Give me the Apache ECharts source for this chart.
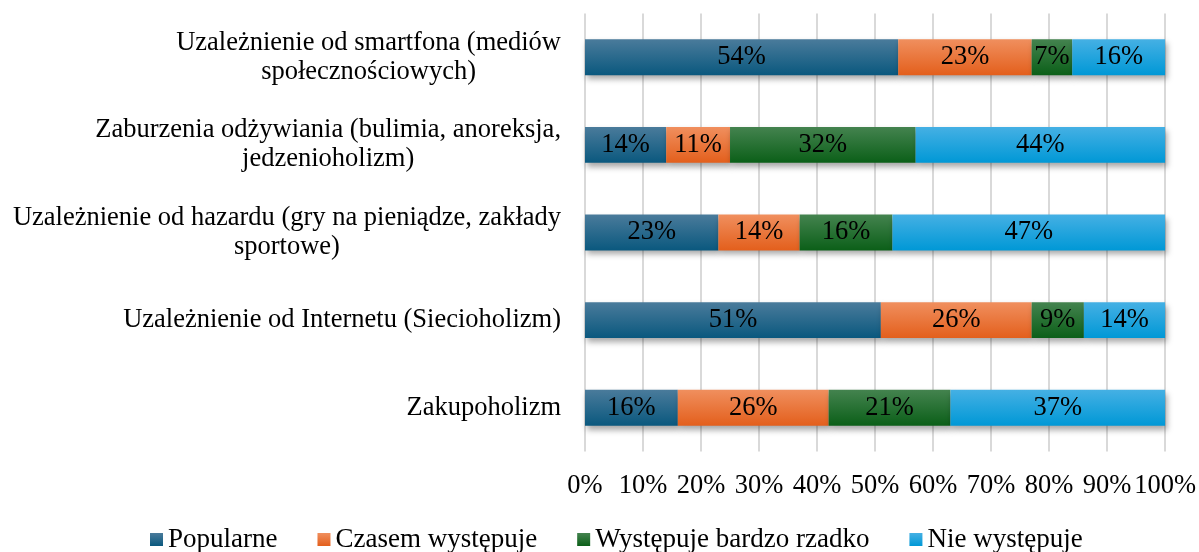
<!DOCTYPE html>
<html>
<head>
<meta charset="utf-8">
<style>
  html, body { margin: 0; padding: 0; background: #ffffff; }
  #chart { width: 1199px; height: 552px; }
</style>
<script src="https://cdn.jsdelivr.net/npm/echarts@6/dist/echarts.min.js"></script>
</head>
<body>
<div id="chart"></div>
<script>
// Category labels (top to bottom)
var categories = [
  'Uzależnienie od smartfona (mediów\nspołecznościowych)',
  'Zaburzenia odżywiania (bulimia, anoreksja,\njedzenioholizm)',
  'Uzależnienie od hazardu (gry na pieniądze, zakłady\nsportowe)',
  'Uzależnienie od Internetu (Siecioholizm)',
  'Zakupoholizm'
];

// Series names
var seriesNames = ['Popularne', 'Czasem występuje', 'Występuje bardzo rzadko', 'Nie występuje'];

// Shares in percent per category
var popularne = [54, 14, 23, 51, 16];
var czasem    = [23, 11, 14, 26, 26];
var rzadko    = [7, 32, 16, 9, 21];
var nie       = [16, 44, 47, 14, 37];

// X-axis tick values
var xTicks = [0, 10, 20, 30, 40, 50, 60, 70, 80, 90, 100];

var FONT = "'Liberation Serif', 'Times New Roman', serif";
var FS = 26.5;

function grad(top, bottom) {
  return new echarts.graphic.LinearGradient(0, 0, 0, 1, [
    { offset: 0, color: top },
    { offset: 1, color: bottom }
  ]);
}

var fills = [
  grad('#4a7b9b', '#0a587e'),
  grad('#f08f5e', '#e35f1c'),
  grad('#44834f', '#0b5f18'),
  grad('#45b0e4', '#0098d6')
];

var seriesData = [popularne, czasem, rzadko, nie];

var series = seriesData.map(function (vals, i) {
  return {
    name: seriesNames[i],
    type: 'bar',
    stack: 'total',
    barWidth: '41%',
    data: vals,
    itemStyle: {
      color: fills[i],
      shadowColor: 'rgba(0,0,0,0.35)',
      shadowBlur: 6,
      shadowOffsetX: 2,
      shadowOffsetY: 4
    },
    label: {
      show: true,
      position: 'inside',
      formatter: '{c}%',
      color: '#000000',
      fontFamily: FONT,
      fontSize: FS
    }
  };
});

var chart = echarts.init(document.getElementById('chart'), null, { renderer: 'canvas' });

chart.setOption({
  animation: false,
  backgroundColor: '#ffffff',
  textStyle: { fontFamily: FONT },
  grid: {
    left: 585,
    right: 32,
    top: 13.5,
    bottom: 100.5,
    containLabel: false
  },
  legend: {
    data: seriesNames,
    left: 145,
    top: 521,
    itemWidth: 13,
    itemHeight: 13,
    itemGap: 40,
    icon: 'rect',
    textStyle: {
      fontFamily: FONT,
      fontSize: 27,
      color: '#000000'
    }
  },
  xAxis: {
    type: 'value',
    min: xTicks[0],
    max: xTicks[xTicks.length - 1],
    interval: xTicks[1] - xTicks[0],
    axisLine: { show: false },
    axisTick: { show: false },
    splitLine: { show: true, lineStyle: { color: '#d9d9d9', width: 2 } },
    axisLabel: {
      formatter: '{value}%',
      color: '#000000',
      fontFamily: FONT,
      fontSize: FS,
      margin: 21
    }
  },
  yAxis: {
    type: 'category',
    inverse: true,
    data: categories,
    axisLine: { show: false },
    axisTick: { show: false },
    splitLine: { show: false },
    axisLabel: {
      color: '#000000',
      fontFamily: FONT,
      fontSize: FS,
      lineHeight: 29,
      margin: 24,
      formatter: function (value) {
        return value.split('\n').map(function (line) {
          return '{c|' + line + '}';
        }).join('\n');
      },
      rich: {
        c: {
          align: 'center',
          fontFamily: FONT,
          fontSize: FS,
          lineHeight: 29,
          color: '#000000'
        }
      }
    }
  },
  series: series
});
</script>
</body>
</html>
